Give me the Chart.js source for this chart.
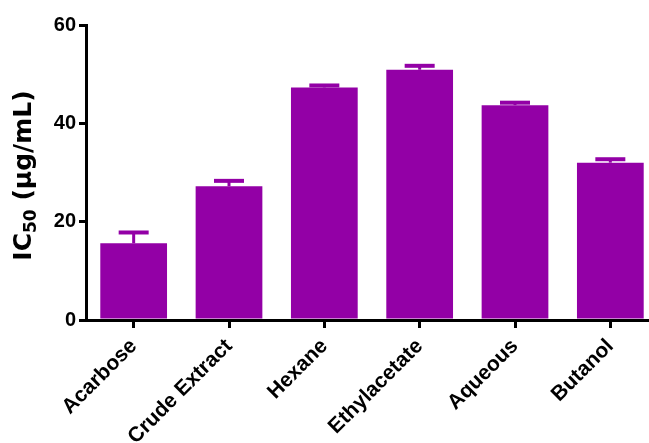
<!DOCTYPE html>
<html>
<head>
<meta charset="utf-8">
<script src="https://cdn.jsdelivr.net/npm/chart.js@4.4.1/dist/chart.umd.min.js"></script>
<style>
  html, body { margin: 0; padding: 0; overflow: hidden; background: #fff; }
  #wrap { width: 660px; height: 443px; }
</style>
</head>
<body>
<div id="wrap"><canvas id="ic50Chart"></canvas></div>
<script>
const categories = ['Acarbose', 'Crude Extract', 'Hexane', 'Ethylacetate', 'Aqueous', 'Butanol'];
const ic50Values = [15.6, 27.2, 47.3, 50.9, 43.7, 32.0];
const ic50Errors = [2.2, 1.1, 0.4, 0.8, 0.5, 0.7];
const yTicks = [0, 20, 40, 60];

const barColor = '#9300a6';

// upper error bars, drawn through the y scale
const errorBars = {
    id: 'errorBars',
    afterDatasetsDraw(chart) {
        const ctx = chart.ctx;
        const y = chart.scales.y;
        const meta = chart.getDatasetMeta(0);
        ctx.save();
        ctx.strokeStyle = barColor;
        meta.data.forEach((bar, i) => {
            const top = y.getPixelForValue(ic50Values[i] + ic50Errors[i]);
            ctx.lineWidth = 3;
            ctx.beginPath();
            ctx.moveTo(bar.x, bar.y);
            ctx.lineTo(bar.x, top);
            ctx.stroke();
            ctx.lineWidth = 4;
            ctx.beginPath();
            ctx.moveTo(bar.x - 15, top);
            ctx.lineTo(bar.x + 15, top);
            ctx.stroke();
        });
        ctx.restore();
    }
};

// y title with subscript
const yTitle = {
    id: 'yTitle',
    afterDraw(chart) {
        const ctx = chart.ctx;
        const area = chart.chartArea;
        const big = 'bold 25px "DejaVu Sans"';
        const small = 'bold 17px "DejaVu Sans"';
        ctx.save();
        ctx.font = big;
        const w1 = ctx.measureText('IC').width;
        const w3 = ctx.measureText(' (µg/mL)').width;
        ctx.font = small;
        const w2 = ctx.measureText('50').width;
        const total = w1 + w2 + w3;
        ctx.translate(31, (area.top + area.bottom) / 2 + 3);
        ctx.rotate(-Math.PI / 2);
        ctx.fillStyle = '#000';
        ctx.textBaseline = 'alphabetic';
        let x = -total / 2;
        ctx.font = big;
        ctx.fillText('IC', x, 0);
        x += w1;
        ctx.font = small;
        ctx.fillText('50', x, 5);
        x += w2;
        ctx.font = big;
        ctx.fillText(' (µg/mL)', x, 0);
        ctx.restore();
    }
};

const ctx = document.getElementById('ic50Chart').getContext('2d');
const ic50Chart = new Chart(ctx, {
    type: 'bar',
    data: {
        labels: categories,
        datasets: [{
            data: ic50Values,
            backgroundColor: barColor,
            barPercentage: 0.7,
            categoryPercentage: 1.0
        }]
    },
    options: {
        responsive: true,
        maintainAspectRatio: false,
        animation: false,
        layout: { padding: { top: 25, left: 0, right: 2, bottom: 0 } },
        plugins: {
            legend: { display: false },
            tooltip: { enabled: false }
        },
        scales: {
            x: {
                border: { display: true, color: '#000', width: 3 },
                grid: {
                    display: true,
                    drawOnChartArea: false,
                    offset: false,
                    tickLength: 8,
                    color: '#000',
                    lineWidth: 3
                },
                ticks: {
                    color: '#000',
                    font: { family: '"Liberation Sans", Arial', size: 21, weight: 'bold' },
                    minRotation: 45,
                    maxRotation: 45,
                    padding: 6
                },
                afterFit(scale) { scale.height = 123; }
            },
            y: {
                min: 0,
                max: 60,
                border: { display: true, color: '#000', width: 3 },
                grid: {
                    display: true,
                    drawOnChartArea: false,
                    tickLength: 7,
                    color: '#000',
                    lineWidth: 3
                },
                ticks: {
                    color: '#000',
                    font: { family: '"Liberation Sans", Arial', size: 20, weight: 'bold' },
                    padding: 3
                },
                afterBuildTicks(scale) { scale.ticks = yTicks.map(v => ({ value: v })); },
                afterFit(scale) { scale.width = 86; }
            }
        }
    },
    plugins: [errorBars, yTitle]
});
</script>
</body>
</html>
